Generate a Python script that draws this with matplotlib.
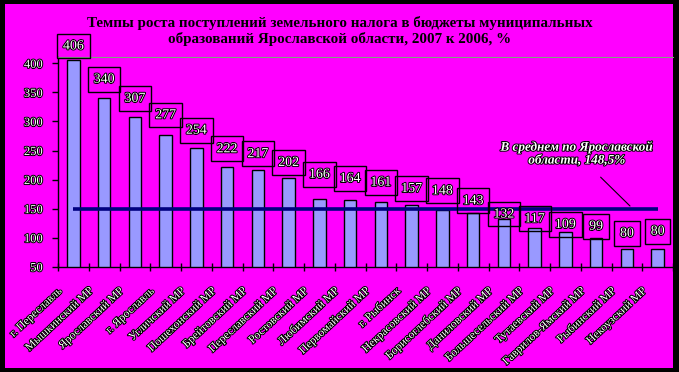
import matplotlib
matplotlib.use("Agg")
import matplotlib.pyplot as plt
import matplotlib.patheffects as pe
from matplotlib.transforms import ScaledTranslation
from matplotlib.patches import Rectangle
import numpy as np

title = ("Темпы роста поступлений земельного налога в бюджеты муниципальных\n"
         "образований Ярославской области, 2007 к 2006, %")
categories = ["г. Переславль", "Мышкинский МР", "Ярославский МР", "г. Ярославль",
              "Угличский МР", "Пошехонский МР", "Брейтовский МР", "Переславский МР",
              "Ростовский МР", "Любимский МР", "Первомайский МР", "г. Рыбинск",
              "Некрасовский МР", "Борисоглебский МР", "Даниловский МР",
              "Большесельский МР", "Тутаевский МР", "Гаврилов-Ямский МР",
              "Рыбинский МР", "Некоузский МР"]
values = [406, 340, 307, 277, 254, 222, 217, 202, 166, 164, 161, 157, 148,
          143, 132, 117, 109, 99, 80, 80]
average = 148.5
average_label = "В среднем по Ярославской\nобласти, 148,5%"
yticks = [50, 100, 150, 200, 250, 300, 350, 400]

# label box vertical offsets above bar tops (pixels) - style only
label_offsets_px = [14, 19, 19, 20, 18, 18, 16, 16, 25, 22, 20, 16, 19,
                    12, 5, 9, 8, 12, 16, 18]

W, H = 679, 372
fig = plt.figure(figsize=(W / 100, H / 100), dpi=100, facecolor="black")
fig.patches.append(Rectangle((5 / W, 1 - 368 / H), (673 - 5) / W, (368 - 4) / H,
                             transform=fig.transFigure, facecolor="#FF00FF",
                             edgecolor="none", zorder=-5))

ax = fig.add_axes([58 / W, 1 - 266.7 / H, (673 - 58) / W, (266.7 - 57) / H])
ax.set_zorder(2)
ax.set_facecolor("none")
x = np.arange(len(values))
ax.bar(x, values, width=0.41, bottom=0, color="#9999FF", edgecolor="black",
       linewidth=1.0, zorder=2)
ax.set_xlim(-0.5, len(values) - 0.5)
ax.set_ylim(50, 411)

ax.spines["right"].set_visible(False)
ax.spines["top"].set_color("#80A080")
ax.spines["top"].set_linewidth(0.8)
ax.spines["left"].set_color("black")
ax.spines["bottom"].set_color("black")
ax.spines["left"].set_linewidth(1.0)
ax.spines["bottom"].set_linewidth(1.0)

serif = ["Liberation Serif", "DejaVu Serif"]
outline = [pe.withStroke(linewidth=1.4, foreground="black")]

ax.set_yticks(yticks)
ax.set_yticklabels([str(v) for v in yticks], family=serif, fontsize=9,
                   color="white", path_effects=outline)
ax.tick_params(axis="y", direction="out", length=4, width=1, color="black", pad=7)

ax.set_xticks(x)
ax.set_xticklabels([])
ax.tick_params(axis="x", length=0)
ax.set_xticks(np.arange(-0.5, len(values) - 0.4, 1), minor=True)
ax.tick_params(axis="x", which="minor", direction="inout", length=6, width=1,
               color="black")

trans = ax.get_xaxis_transform() + ScaledTranslation(-0.13, -0.23, fig.dpi_scale_trans)
for i, c in enumerate(categories):
    ax.text(i, 0, c, transform=trans, rotation=43, ha="right", va="center",
            rotation_mode="anchor", family=serif, fontsize=8.4, color="white",
            path_effects=outline)

# average line
ax.plot([0, len(values) - 1], [average, average], color="#000080", linewidth=2.6,
        zorder=4, solid_capstyle="butt")

# data labels
for i, v in enumerate(values):
    ax.annotate(str(v), xy=(i, v), xytext=(0, label_offsets_px[i] * 0.72),
                textcoords="offset points", ha="center", va="center",
                family=serif, fontsize=10, color="white", path_effects=outline,
                bbox=dict(boxstyle="square,pad=0.42", facecolor="none",
                          edgecolor="black", linewidth=1.0), zorder=5)

# average annotation
ax.annotate(average_label, xy=(630 / W, 1 - 206 / H), xycoords="figure fraction",
            xytext=(577 / W, 1 - 154 / H), textcoords="figure fraction",
            ha="center", va="center", family=serif, fontsize=9.5,
            fontstyle="italic", fontweight="bold", color="white",
            path_effects=outline, linespacing=1.1,
            arrowprops=dict(arrowstyle="-", color="black", linewidth=0.8,
                            shrinkA=8, shrinkB=0))

fig.text(340 / W, 1 - 31 / H, title, ha="center", va="center", family=serif,
         fontsize=10.8, fontweight="bold", color="black", linespacing=1.15)

fig.savefig("out.png", dpi=100, facecolor="black")
